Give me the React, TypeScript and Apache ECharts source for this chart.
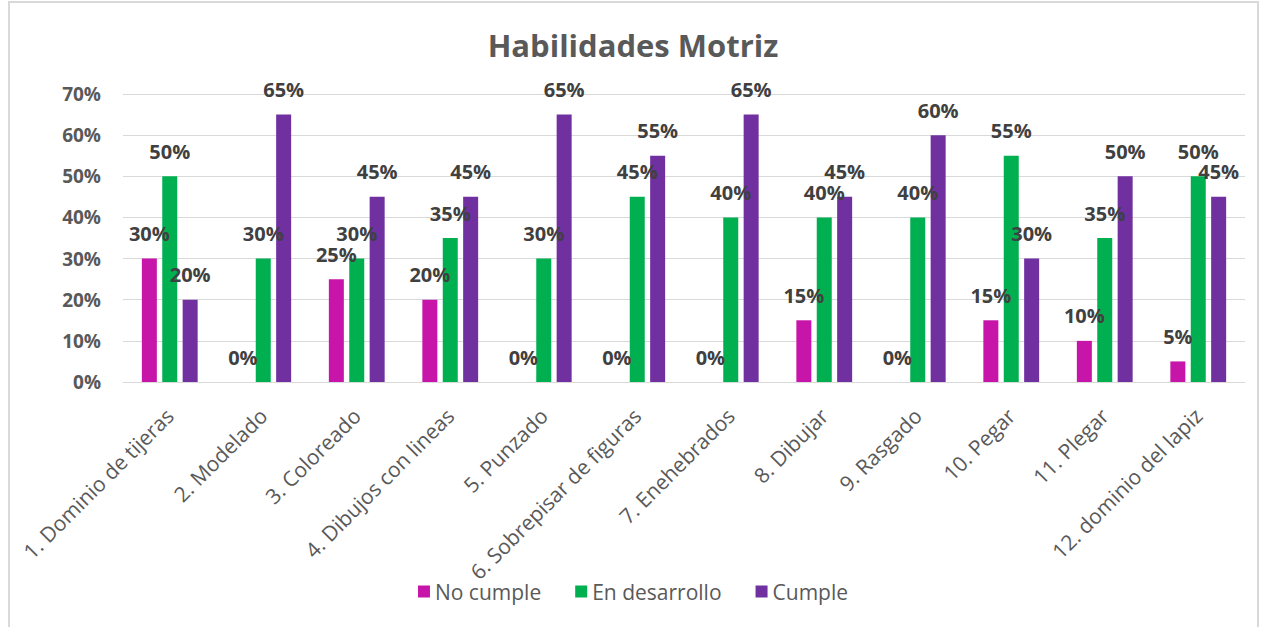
import React, { useEffect, useRef } from "react";
import * as echarts from "echarts";

const categories = [
  "1. Dominio de tijeras",
  "2. Modelado",
  "3. Coloreado",
  "4. Dibujos con lineas",
  "5. Punzado",
  "6. Sobrepisar de figuras",
  "7. Enehebrados",
  "8. Dibujar",
  "9. Rasgado",
  "10. Pegar",
  "11. Plegar",
  "12. dominio del lapiz",
];
const noCumple = [30, 0, 25, 20, 0, 0, 0, 15, 0, 15, 10, 5];
const enDesarrollo = [50, 30, 30, 35, 30, 45, 40, 40, 40, 55, 35, 50];
const cumple = [20, 65, 45, 45, 65, 55, 65, 45, 60, 30, 50, 45];
const seriesNames = ["No cumple", "En desarrollo", "Cumple"];
const colors = ["#C715A9", "#00B050", "#7030A0"];
const yTicks = { min: 0, max: 70, interval: 10 };

const FONT = "'Open Sans', 'Noto Sans', sans-serif";

export default function App() {
  const ref = useRef<HTMLDivElement>(null);
  useEffect(() => {
    if (!ref.current) return;
    const chart = echarts.init(ref.current, undefined, { renderer: "svg" });
    const mk = (name: string, data: number[], color: string) => ({
      name,
      type: "bar",
      data,
      barWidth: 15,
      barGap: "36%",
      itemStyle: { color },
      label: {
        show: true,
        position: "top",
        distance: 15,
        formatter: (p: any) => p.value + "%",
        fontFamily: FONT,
        fontWeight: "bold",
        fontSize: 20,
        color: "#404040",
      },
    });
    chart.setOption({
      animation: false,
      backgroundColor: "#ffffff",
      textStyle: { fontFamily: FONT },
      title: {
        text: "Habilidades Motriz",
        left: "center",
        top: 24,
        textStyle: { fontFamily: FONT, fontSize: 31, fontWeight: "bold", color: "#595959" },
      },
      graphic: [
        {
          type: "rect",
          shape: { x: 9, y: 2, width: 1249, height: 640 },
          style: { fill: "none", stroke: "#d9d9d9", lineWidth: 2 },
          silent: true,
        },
      ],
      legend: {
        data: seriesNames,
        bottom: 20,
        left: "center",
        itemWidth: 12,
        itemHeight: 12,
        itemGap: 34,
        icon: "rect",
        textStyle: { fontFamily: FONT, fontSize: 21, color: "#595959" },
      },
      grid: { left: 123, right: 21, top: 94, bottom: 245, containLabel: false },
      xAxis: {
        type: "category",
        data: categories,
        axisLine: { lineStyle: { color: "#d9d9d9" } },
        axisTick: { show: false },
        axisLabel: {
          rotate: 45,
          interval: 0,
          margin: 30,
          fontFamily: FONT,
          fontSize: 21,
          color: "#595959",
        },
      },
      yAxis: {
        type: "value",
        min: yTicks.min,
        max: yTicks.max,
        interval: yTicks.interval,
        axisLine: { show: false },
        axisTick: { show: false },
        splitLine: { lineStyle: { color: "#d9d9d9" } },
        axisLabel: {
          formatter: "{value}%",
          margin: 22,
          fontFamily: FONT,
          fontSize: 19,
          fontWeight: "bold",
          color: "#595959",
        },
      },
      series: [
        mk(seriesNames[0], noCumple, colors[0]),
        mk(seriesNames[1], enDesarrollo, colors[1]),
        mk(seriesNames[2], cumple, colors[2]),
      ],
    });
    return () => chart.dispose();
  }, []);
  return (
    <div
      ref={ref}
      style={{ position: "fixed", left: 0, top: 0, width: 1266, height: 627 }}
    />
  );
}
